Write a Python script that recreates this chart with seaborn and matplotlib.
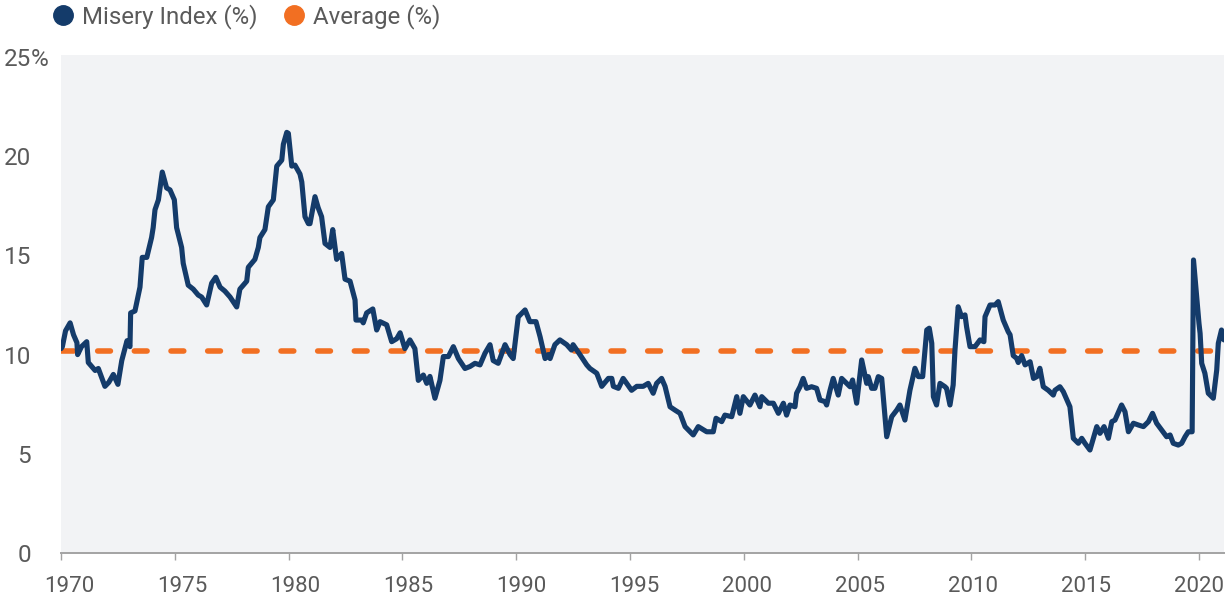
import matplotlib
matplotlib.use("Agg")
import matplotlib.pyplot as plt
import matplotlib.transforms as mtransforms
from matplotlib.lines import Line2D
import seaborn as sns
import pandas as pd

# ---- data ----
years = [
    1970.00, 1970.06, 1970.20, 1970.40, 1970.55, 1970.70, 1970.73, 1970.90, 1971.13, 1971.20,
    1971.50, 1971.64, 1971.93, 1972.10, 1972.30, 1972.50, 1972.67, 1972.90, 1973.03, 1973.06,
    1973.25, 1973.47, 1973.57, 1973.77, 1973.98, 1974.05, 1974.13, 1974.28, 1974.45, 1974.64,
    1974.79, 1974.98, 1975.08, 1975.30, 1975.37, 1975.59, 1975.81, 1976.03, 1976.18, 1976.40,
    1976.62, 1976.80, 1976.99, 1977.20, 1977.43, 1977.72, 1977.86, 1978.16, 1978.23, 1978.52,
    1978.67, 1978.74, 1978.96, 1979.11, 1979.33, 1979.48, 1979.70, 1979.77, 1979.92, 1979.99,
    1980.14, 1980.28, 1980.50, 1980.58, 1980.72, 1980.87, 1980.94, 1981.16, 1981.30, 1981.45,
    1981.60, 1981.82, 1981.94, 1982.11, 1982.33, 1982.48, 1982.70, 1982.92, 1982.96, 1983.21,
    1983.28, 1983.43, 1983.70, 1983.87, 1984.02, 1984.31, 1984.53, 1984.75, 1984.90, 1985.11,
    1985.33, 1985.55, 1985.70, 1985.92, 1986.07, 1986.21, 1986.43, 1986.65, 1986.80, 1987.02,
    1987.24, 1987.46, 1987.75, 1987.97, 1988.19, 1988.41, 1988.63, 1988.85, 1988.99, 1989.21,
    1989.51, 1989.73, 1989.87, 1990.09, 1990.39, 1990.60, 1990.87, 1991.05, 1991.27, 1991.41,
    1991.49, 1991.70, 1991.92, 1992.22, 1992.43, 1992.50, 1992.80, 1993.10, 1993.24, 1993.54,
    1993.76, 1994.05, 1994.20, 1994.27, 1994.49, 1994.70, 1995.07, 1995.30, 1995.58, 1995.80,
    1996.02, 1996.17, 1996.39, 1996.54, 1996.76, 1996.98, 1997.20, 1997.42, 1997.78, 1998.00,
    1998.37, 1998.66, 1998.78, 1999.03, 1999.17, 1999.47, 1999.69, 1999.83, 1999.98, 2000.27,
    2000.49, 2000.71, 2000.79, 2001.08, 2001.30, 2001.52, 2001.74, 2001.88, 2002.03, 2002.25,
    2002.32, 2002.47, 2002.61, 2002.76, 2002.98, 2003.20, 2003.35, 2003.57, 2003.64, 2003.79,
    2003.93, 2004.15, 2004.30, 2004.52, 2004.67, 2004.78, 2004.96, 2005.18, 2005.40, 2005.47,
    2005.62, 2005.76, 2005.91, 2006.06, 2006.28, 2006.50, 2006.72, 2006.86, 2007.08, 2007.30,
    2007.52, 2007.67, 2007.86, 2008.04, 2008.15, 2008.26, 2008.33, 2008.47, 2008.62, 2008.84,
    2008.91, 2009.06, 2009.20, 2009.28, 2009.42, 2009.57, 2009.72, 2009.79, 2009.94, 2010.16,
    2010.38, 2010.55, 2010.60, 2010.82, 2011.04, 2011.18, 2011.40, 2011.62, 2011.70, 2011.84,
    2011.99, 2012.06, 2012.21, 2012.36, 2012.58, 2012.73, 2012.88, 2013.01, 2013.16, 2013.38,
    2013.60, 2013.67, 2013.89, 2014.04, 2014.33, 2014.48, 2014.70, 2014.85, 2014.99, 2015.21,
    2015.51, 2015.65, 2015.83, 2016.02, 2016.17, 2016.31, 2016.60, 2016.75, 2016.90, 2017.12,
    2017.34, 2017.56, 2017.78, 2017.96, 2018.14, 2018.36, 2018.58, 2018.73, 2018.87, 2019.09,
    2019.24, 2019.39, 2019.53, 2019.70, 2019.76, 2019.90, 2020.00, 2020.05, 2020.12, 2020.26,
    2020.41, 2020.63, 2020.78, 2020.85, 2020.99, 2021.10,
]
misery_index = [
    10.3, 10.4, 11.2, 11.6, 11.0, 10.6, 10.0, 10.4, 10.65, 9.6,
    9.2, 9.3, 8.4, 8.6, 9.0, 8.5, 9.7, 10.7, 10.4, 12.1,
    12.2, 13.4, 14.9, 14.9, 15.9, 16.4, 17.3, 17.8, 19.2, 18.4,
    18.3, 17.8, 16.4, 15.4, 14.6, 13.5, 13.3, 13.0, 12.9, 12.5,
    13.6, 13.9, 13.4, 13.2, 12.9, 12.4, 13.3, 13.7, 14.4, 14.8,
    15.4, 15.9, 16.3, 17.45, 17.8, 19.5, 19.8, 20.6, 21.2, 21.15,
    19.5, 19.55, 19.1, 18.7, 16.95, 16.6, 16.6, 17.96, 17.4, 16.95,
    15.6, 15.4, 16.3, 14.8, 15.1, 13.8, 13.7, 12.75, 11.74, 11.74,
    11.6, 12.1, 12.3, 11.24, 11.66, 11.5, 10.65, 10.8, 11.1, 10.3,
    10.74, 10.3, 8.7, 8.97, 8.55, 8.9, 7.8, 8.7, 9.9, 9.9,
    10.4, 9.8, 9.3, 9.4, 9.56, 9.48, 10.07, 10.5, 9.7, 9.56,
    10.5, 10.0, 9.8, 11.9, 12.25, 11.66, 11.66, 10.9, 9.8, 10.0,
    9.8, 10.5, 10.74, 10.5, 10.23, 10.5, 10.0, 9.48, 9.3, 9.06,
    8.4, 8.8, 8.8, 8.4, 8.3, 8.8, 8.2, 8.4, 8.4, 8.55,
    8.05, 8.55, 8.8, 8.4, 7.37, 7.2, 7.04, 6.37, 5.95, 6.37,
    6.11, 6.11, 6.79, 6.62, 6.95, 6.87, 7.88, 7.04, 7.88, 7.46,
    7.96, 7.37, 7.88, 7.55, 7.55, 7.04, 7.55, 6.95, 7.46, 7.37,
    8.05, 8.38, 8.8, 8.3, 8.38, 8.3, 7.71, 7.63, 7.46, 8.2,
    8.8, 7.96, 8.8, 8.55, 8.38, 8.72, 7.55, 9.73, 8.55, 8.89,
    8.3, 8.3, 8.89, 8.8, 5.86, 6.87, 7.2, 7.46, 6.7, 8.2,
    9.31, 8.89, 8.89, 11.24, 11.33, 10.57, 7.88, 7.46, 8.55, 8.38,
    8.3, 7.46, 8.47, 10.23, 12.41, 11.91, 12.0, 11.4, 10.4, 10.4,
    10.74, 10.65, 11.91, 12.5, 12.5, 12.67, 11.74, 11.15, 11.0, 9.95,
    9.81, 9.6, 9.95, 9.48, 9.64, 8.8, 8.89, 9.31, 8.38, 8.2,
    7.96, 8.2, 8.38, 8.13, 7.37, 5.78, 5.53, 5.78, 5.53, 5.19,
    6.37, 6.03, 6.37, 5.78, 6.62, 6.7, 7.46, 7.12, 6.11, 6.54,
    6.45, 6.37, 6.62, 7.04, 6.54, 6.2, 5.86, 5.95, 5.53, 5.44,
    5.53, 5.86, 6.11, 6.11, 14.77, 12.92, 11.58, 11.07, 9.56, 9.06,
    8.05, 7.8, 9.22, 10.57, 11.24, 10.74,
]
average_value = 10.2
x_ticks = [1970, 1975, 1980, 1985, 1990, 1995, 2000, 2005, 2010, 2015, 2020]
y_ticks = [0, 5, 10, 15, 20, 25]
y_tick_labels = ["0", "5", "10", "15", "20", "25"]
series_names = ["Misery Index (%)", "Average (%)"]

NAVY = "#143B6A"
ORANGE = "#F26F22"
BG = "#F2F3F5"
TXT = "#5A5A5A"

sns.set_theme(style="white")
plt.rcParams["font.family"] = ["Roboto", "DejaVu Sans"]

df = pd.DataFrame({"year": years, "value": misery_index})
df_avg = pd.DataFrame({"year": years, "value": [average_value] * len(years)})

fig = plt.figure(figsize=(12.27, 6.0), dpi=100)
ax = fig.add_axes([61 / 1227, 47 / 600, (1224 - 61) / 1227, (553 - 55) / 600])
ax.set_facecolor(BG)

sns.lineplot(data=df, x="year", y="value", ax=ax, color=NAVY, linewidth=3.7,
             solid_joinstyle="round", solid_capstyle="round", zorder=3)
sns.lineplot(data=df_avg, x="year", y="value", ax=ax, color=ORANGE, linewidth=4.0,
             dashes=False, zorder=2)
avg_line = ax.lines[-1]
avg_line.set_dashes((2.3, 4.3))
avg_line.set_dash_capstyle("round")

ax.set_xlim(1970, 2021.1)
ax.set_ylim(0, 25.1)
ax.set_xlabel("")
ax.set_ylabel("")

for s in ["top", "right", "left"]:
    ax.spines[s].set_visible(False)
ax.spines["bottom"].set_color("#A3A3A3")
ax.spines["bottom"].set_linewidth(1.4)

ax.set_xticks(x_ticks)
ax.set_xticklabels([str(t) for t in x_ticks])
ax.set_yticks(y_ticks)
ax.set_yticklabels(y_tick_labels)
ax.tick_params(axis="x", length=5, width=1, color="#A3A3A3", pad=11.5,
               labelsize=16, labelcolor=TXT, bottom=True)
ax.tick_params(axis="y", length=0, pad=21.5, labelsize=17.5, labelcolor=TXT, left=True)
ax.grid(False)

# labels in the reference sit slightly right of their ticks, drifting back to centre
n_lab = len(ax.get_xticklabels())
for i, lab in enumerate(ax.get_xticklabels()):
    dx = 8.0 * (1 - i / (n_lab - 1))
    lab.set_transform(lab.get_transform() +
                      mtransforms.ScaledTranslation(dx / 100, 0, fig.dpi_scale_trans))

# "%" after the top y label
fig.canvas.draw()
top_label = ax.get_yticklabels()[-1]
bb = top_label.get_window_extent(renderer=fig.canvas.get_renderer())
ax.annotate("%", xy=(bb.x1 / fig.dpi / fig.get_figwidth(), 25), xycoords=("figure fraction", "data"),
            ha="left", va="center_baseline", fontsize=17.5, color=TXT, annotation_clip=False)

handles = [
    Line2D([], [], marker="o", linestyle="", markersize=14, color=NAVY),
    Line2D([], [], marker="o", linestyle="", markersize=14, color=ORANGE),
]
fig.legend(handles, series_names, loc="upper left", bbox_to_anchor=(0.024, 1.03),
           ncol=2, frameon=False, fontsize=17.3, labelcolor=TXT, handletextpad=0.3,
           columnspacing=1.0, handlelength=1.0)

fig.savefig("out.png", dpi=100)
